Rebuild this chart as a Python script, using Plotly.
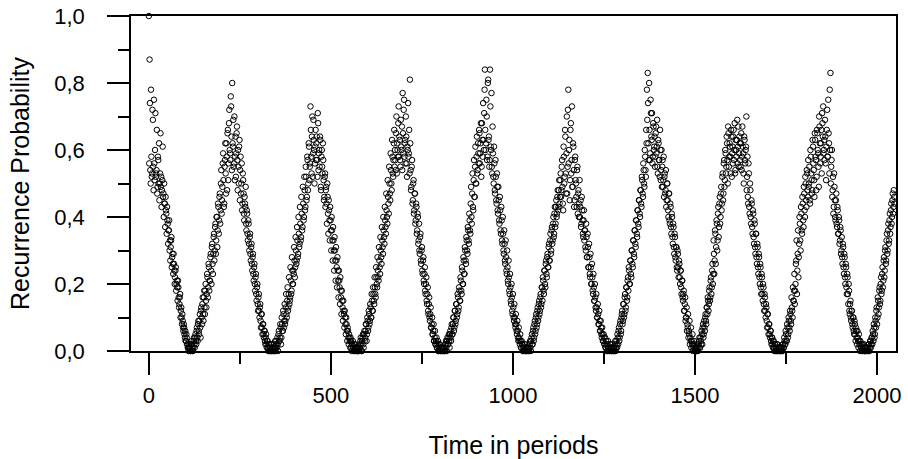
import plotly.graph_objects as go

# Start time (in periods) of each recorded segment; even samples start here, odd samples one period later
seg_start = [0, 113, 342, 575, 809, 1042, 1276, 1505, 1738, 1972]
sample_step = 2

# Recurrence probability (in hundredths), segment by segment (even samples)
s0 = [100,87,54,78,52,72,55,75,51,71,53,66,49,57,62,50,65,52,48,61,47,50,44,46,41,43,38,36,39,33,
      31,34,28,26,29,24,22,25,20,19,21,16,14,17,12,10,11,7,8,5,6,3,4,2,1,2,1]
c1 = [1,0,2,1,0,3,2,4,3,6,4,8,6,9,7,12,10,14,11,16,13,18,15,17,22,19,25,21,28,24,31,26,29,35,30,38,33,40,36,43,
      39,47,42,54,45,56,51,44,57,53,62,48,66,56,72,59,76,64,80,
      61,55,70,58,52,65,57,60,50,63,54,47,56,44,51,41,46,43,38,42,35,39,32,34,29,31,26,28,23,25,20,22,17,19,14,
      16,12,13,9,11,7,8,5,6,3,4,2,3,1,2,0,1,2,0,1,0]
c2 = [0,2,1,0,3,1,2,5,3,4,7,4,8,6,11,9,8,13,11,15,12,17,14,16,21,18,24,20,23,27,25,30,27,33,29,35,32,38,34,41,
      37,44,40,48,43,52,46,57,50,61,55,73,58,64,52,69,60,56,66,
      62,57,71,54,60,64,49,58,55,62,51,46,53,48,44,50,41,45,39,43,36,40,33,37,30,34,27,31,25,28,21,24,19,22,16,
      18,13,15,11,12,8,10,6,7,4,5,3,4,1,2,3,1,0,2,1,0,1,0]
c3 = [1,0,1,3,2,0,4,2,5,3,6,8,5,9,7,11,9,13,10,15,12,17,14,19,16,22,19,24,21,27,23,30,26,33,29,36,32,39,35,42,
      38,46,41,50,45,54,48,58,52,62,55,57,65,53,60,68,58,63,55,
      61,67,77,59,75,62,56,64,52,60,58,66,81,54,49,57,45,51,42,47,39,43,36,40,33,30,34,27,30,24,27,21,23,18,20,
      15,17,12,14,10,11,7,8,5,6,3,4,2,3,1,2,0,1,2,0,1,0,1]
c4 = [0,1,0,2,1,3,2,4,3,5,4,7,5,8,10,7,12,9,14,11,16,13,18,15,21,17,24,20,27,23,30,26,33,29,36,32,39,35,49,38,
      53,42,57,46,61,50,64,54,59,66,56,62,52,68,58,63,71,84,60,
      75,57,80,63,55,84,61,77,53,59,50,56,47,52,44,49,41,45,38,42,35,39,32,35,29,32,26,28,23,25,20,22,17,19,14,
      16,11,13,9,10,7,8,5,6,3,4,2,3,1,2,0,1,0,2,1,0,1,0]
c5 = [1,0,2,1,3,5,2,7,4,9,6,11,8,13,10,15,12,17,14,19,22,18,24,20,26,23,28,25,31,27,33,29,36,32,38,34,41,37,43,40,
      46,42,48,44,51,46,55,49,42,58,52,64,47,70,55,78,60,45,66,
      53,73,49,61,43,57,51,46,54,41,48,44,40,45,38,42,35,39,33,36,30,34,28,31,25,28,22,25,20,22,17,19,15,16,12,
      13,10,11,8,9,6,7,4,5,3,4,2,1,3,0,2,1,0,1,2,0,1,0]
c6 = [0,1,2,0,3,1,4,6,3,8,5,10,12,9,14,11,17,13,19,16,22,25,20,27,23,30,26,33,29,36,32,39,35,42,38,45,41,48,44,52,
      47,56,50,60,54,66,78,83,62,80,57,75,64,71,58,67,61,55,
      65,59,69,53,62,57,66,51,60,55,49,58,52,47,54,45,50,42,47,39,44,37,41,34,38,31,35,28,31,25,30,25,27,22,24,
      19,21,16,17,12,14,9,10,6,7,4,5,2,3,1,2,0,1,2,0,1,0]
c7 = [0,2,1,3,1,4,2,5,7,4,9,6,11,8,13,16,12,18,15,21,17,24,20,33,23,36,26,39,30,41,34,44,38,47,42,52,45,56,49,60,
      53,64,57,67,55,62,58,66,52,61,64,57,68,54,60,63,56,67,59,
      62,55,65,58,61,53,64,57,60,70,52,46,56,43,50,40,45,37,42,34,39,31,35,28,32,25,29,22,26,19,23,17,20,14,17,
      12,14,9,11,7,8,5,6,3,4,2,3,1,2,0,1,2,0,1,0,1,0,1]
c8 = [1,0,2,1,3,2,5,3,7,5,9,6,11,8,13,10,15,18,14,20,27,17,29,22,32,38,30,41,35,44,37,47,40,50,43,53,46,49,55,44,
      58,51,48,61,54,46,63,57,52,65,59,49,67,56,62,53,68,73,60,
      57,64,51,66,58,75,62,78,83,55,60,48,41,53,45,39,47,37,42,35,39,33,36,30,28,32,25,29,22,26,19,23,17,20,12,
      14,10,12,8,10,6,9,5,7,4,6,3,5,2,3,1,2,0,1,2,0,1,0]
c9 = [0,1,0,2,1,3,2,4,6,3,7,5,9,12,8,16,11,18,14,20,17,23,19,27,22,30,26,33,29,36,32,39,35,42,38,45,41,48,44]

# Odd samples (one period after each even sample)
t0 = [56,74,50,58,53,69,48,56,60,52,54,47,58,50,45,53,49,43,51,46,40,44,37,42,35,39,32,36,30,27,
      33,25,29,23,26,20,24,18,21,15,19,13,16,10,13,8,9,6,7,4,3,5,2,1,0,1]
t1 = [0,2,3,0,1,4,1,5,2,7,3,9,5,11,4,13,8,16,9,18,11,20,13,23,16,26,18,21,29,20,
      32,23,34,27,37,29,40,31,44,35,46,38,50,41,49,59,43,55,62,47,58,65,51,68,60,57,73,54,
      62,69,56,51,64,59,67,48,55,61,45,58,50,42,53,47,39,44,49,36,41,33,38,30,35,27,32,24,29,21,
      26,18,23,15,20,12,17,10,14,7,11,5,8,4,6,2,5,1,3,0,2,1,0,2,0,1]
t2 = [1,0,3,1,2,4,0,6,3,8,2,10,6,12,7,14,9,17,10,19,13,22,15,25,17,28,20,24,31,22,
      34,26,37,28,40,31,43,33,46,36,49,39,52,42,55,45,58,48,62,51,56,66,53,70,59,63,50,61,
      57,64,52,68,59,55,63,48,60,53,57,45,52,43,49,38,46,35,42,33,39,30,36,27,33,24,30,21,27,19,
      24,16,21,14,18,11,15,9,12,7,10,5,8,3,6,2,4,1,3,0,2,1,0,2,1,0,1,0]
t3 = [0,2,1,4,0,3,5,1,6,4,8,3,10,6,12,8,14,10,17,12,19,15,22,17,25,20,28,22,31,25,
      34,28,37,31,40,34,43,37,47,40,51,44,55,47,59,50,63,53,57,66,60,54,70,62,58,73,64,57,
      69,60,54,65,72,58,63,70,56,61,74,59,53,62,48,55,44,50,41,47,38,44,35,41,32,38,29,35,26,31,
      23,28,20,25,17,22,14,19,11,16,9,13,7,10,5,8,3,6,2,4,1,3,0,2,1,0,1,0]
t4 = [1,0,2,3,0,4,2,5,1,6,3,8,5,10,6,12,8,14,10,17,12,19,15,22,18,25,20,28,23,31,
      27,34,30,37,33,41,36,44,40,47,43,51,46,55,50,58,53,62,56,65,59,68,55,63,74,60,78,66,
      62,70,58,81,64,57,73,60,55,67,52,61,48,57,45,53,42,49,39,46,36,43,33,40,30,36,27,33,24,30,
      21,27,18,23,15,20,12,17,10,14,8,11,6,9,4,7,3,5,1,3,2,0,1,2,0,1,0,1]
t5 = [0,1,3,0,4,2,6,3,8,5,10,7,12,9,14,11,16,13,19,15,21,17,24,19,27,22,29,25,32,27,
      35,30,37,33,40,35,43,38,45,41,48,43,51,46,53,48,57,44,61,50,66,53,59,47,72,56,63,51,
      68,57,49,62,54,45,58,50,43,55,47,40,51,43,37,46,39,34,42,36,31,38,28,35,25,32,23,29,20,26,
      18,23,15,20,13,17,10,14,8,12,6,9,5,7,3,5,2,4,1,2,0,3,1,0,2,1,0,1]
t6 = [1,0,3,1,2,5,2,7,4,9,6,11,8,14,10,16,12,19,15,21,18,24,20,27,22,30,25,33,28,36,
      31,39,34,42,37,45,40,48,43,51,46,54,49,58,52,62,69,74,57,66,59,71,63,56,68,60,64,
      58,67,61,55,63,57,52,60,54,49,57,51,46,53,48,43,50,45,40,47,38,43,35,40,32,37,29,34,27,31,
      24,29,22,26,20,24,17,21,15,18,12,16,10,13,8,11,6,9,4,7,3,5,2,3,1,0,1]
t7 = [1,0,2,4,1,3,6,2,8,5,7,10,9,13,11,15,14,19,16,22,19,26,23,29,27,35,31,38,33,43,
      37,46,40,49,44,53,47,57,51,59,55,62,50,65,58,61,53,64,59,56,66,60,53,63,58,69,61,55,
      64,57,62,54,67,59,50,63,56,61,48,58,44,53,41,48,38,44,35,41,32,38,29,35,26,31,23,28,20,25,
      17,22,15,19,12,16,10,13,7,11,5,8,4,6,2,4,1,3,0,2,1,0,2,0,1,0,1,0]
t8 = [0,2,1,4,2,6,3,8,4,10,7,12,9,16,12,19,15,23,18,26,33,24,36,28,40,33,43,36,46,39,
      49,42,52,45,54,48,57,50,45,60,53,47,63,56,51,65,58,48,66,60,55,70,62,58,66,71,64,59,
      63,69,56,61,72,58,65,53,60,50,57,46,52,43,49,40,45,38,43,35,40,32,37,29,34,26,31,23,28,20,
      25,17,22,14,18,11,15,9,12,7,10,5,8,3,6,2,4,1,3,0,2,1,0,2,1,0,1,0]
t9 = [1,0,2,0,3,1,4,2,5,8,4,10,7,13,10,15,13,19,15,22,18,25,21,28,24,31,27,35,30,38,
      33,41,37,44,40,47,43,46]

even_segments = [s0, c1, c2, c3, c4, c5, c6, c7, c8, c9]
odd_segments = [t0, t1, t2, t3, t4, t5, t6, t7, t8, t9]

x_vals, y_vals = [], []
for offset, segs in ((0, even_segments), (1, odd_segments)):
    for st, seg in zip(seg_start, segs):
        for i, v in enumerate(seg):
            x_vals.append(st + offset + sample_step * i)
            y_vals.append(v / 100.0)

fig = go.Figure(go.Scatter(
    x=x_vals, y=y_vals, mode="markers", cliponaxis=False,
    marker=dict(symbol="circle-open", size=5.5, color="black", line=dict(width=1, color="black")),
))

axis_common = dict(
    showline=True, mirror=True, linecolor="black", linewidth=1.5,
    ticks="outside", ticklen=22, tickwidth=1.5, tickcolor="black",
    showgrid=False, zeroline=False, automargin=False,
    tickfont=dict(size=22), ticklabeloverflow="allow",
)

fig.update_layout(
    width=908, height=459,
    margin=dict(l=131, r=12, t=16, b=108),
    plot_bgcolor="white", paper_bgcolor="white",
    separators=",.",
    font=dict(family="Liberation Sans, Arial, sans-serif", size=21, color="black"),
    showlegend=False,
    xaxis=dict(
        range=[-49, 2052], tick0=0, dtick=500,
        minor=dict(dtick=250, ticks="outside", ticklen=11, tickwidth=1.5, tickcolor="black"),
        ticklabelstandoff=2,
        title=dict(text="Time in periods", standoff=31),
        **axis_common,
    ),
    yaxis=dict(
        range=[0, 1], tick0=0, dtick=0.2, tickformat=".1f",
        minor=dict(dtick=0.1, ticks="outside", ticklen=11, tickwidth=1.5, tickcolor="black"),
        ticklabelstandoff=18,
        title=dict(text="Recurrence Probability", standoff=18),
        **axis_common,
    ),
)

# Remove the browser's default 8 px page margin so the figure fills the window exactly
fig.write_html("out.html", config={"displayModeBar": False},
               post_script="document.body.style.margin='0px';")
